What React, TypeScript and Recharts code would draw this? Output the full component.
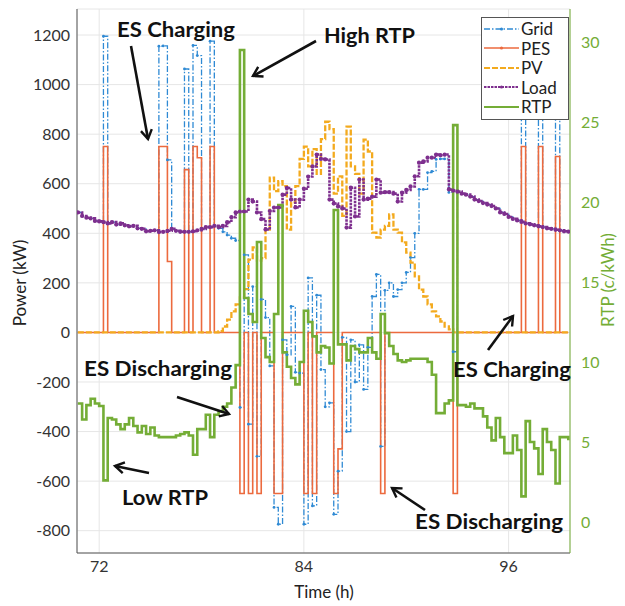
import React from "react";
import { LineChart, Line, XAxis, YAxis, CartesianGrid, Legend } from "recharts";

// Series sampled every 15 min, starting at hour 70.75
const T0 = 70.75;
const DT = 0.25;

const X_TICKS = [72, 84, 96];
const P_TICKS = [-800, -600, -400, -200, 0, 200, 400, 600, 800, 1000, 1200];
const RTP_TICKS = [0, 5, 10, 15, 20, 25, 30];

// Grid power (kW)
const GRID = [
  484, 470, 463, 460, 450, 448, 1195, 440, 445, 435,
  440, 432, 428, 430, 420, 418, 408, 410, 412, 1155,
  1156, 696, 418, 410, 406, 1063, 406, 1158, 1117, 418,
  425, 1175, 430, 420, 406, 393, 380, 371, -303, 313,
  -370, 185, -500, 133, 60, -135, -706, -774, -30, -90,
  105, -161, -164, -774, 220, -700, 150, -150, -300, -284,
  -734, -560, -20, -400, -30, -200, -50, -230, -60, 145,
  234, -460, 170, 200, 145, 173, 200, 242, 302, 400,
  577, 577, 645, 650, 698, 700, 700, 565, -78, 568,
  560, 556, 548, 536, 530, 522, 516, 510, 500, 484,
  478, 466, 458, 452, 1196, 440, 436, 432, 1178, 425,
  420, 418, 1124, 412, 408, 407,
];

// Storage power (kW), + charging / - discharging
const PES = [
  0, 0, 0, 0, 0, 0, 750, 0, 0, 0,
  0, 0, 0, 0, 0, 0, 0, 0, 0, 750,
  750, 286, 0, 0, 0, 657, 0, 750, 705, 0,
  0, 750, 0, 0, 0, 0, 0, 0, -650, 0,
  -650, 0, -650, 0, 0, 0, -650, -650, 0, 0,
  0, 0, 0, -650, 0, -650, 0, 0, 0, 0,
  -650, -470, 0, 0, 0, 0, 0, 0, 0, 0,
  0, -650, 0, 0, 0, 0, 0, 0, 0, 0,
  0, 0, 0, 0, 0, 0, 0, 0, -650, 0,
  0, 0, 0, 0, 0, 0, 0, 0, 0, 0,
  0, 0, 0, 0, 750, 0, 0, 0, 750, 0,
  0, 0, 710, 0, 0, 0,
];

// PV output (kW)
const PV = [
  0, 0, 0, 0, 0, 0, 0, 0, 0, 0,
  0, 0, 0, 0, 0, 0, 0, 0, 0, 0,
  0, 0, 0, 0, 0, 0, 0, 0, 0, 0,
  0, 0, 0, 5, 24, 52, 85, 113, 141, 175,
  294, 343, 290, 300, 415, 625, 570, 610, 590, 415,
  525, 590, 700, 750, 670, 740, 640, 780, 850, 820,
  560, 630, 470, 830, 670, 640, 560, 778, 730, 403,
  383, 415, 430, 476, 415, 403, 363, 322, 282, 226,
  173, 145, 113, 85, 65, 44, 24, 12, 0, 0,
  0, 0, 0, 0, 0, 0, 0, 0, 0, 0,
  0, 0, 0, 0, 0, 0, 0, 0, 0, 0,
  0, 0, 0, 0, 0, 0,
];

// Load (kW)
const LOAD = [
  484, 470, 463, 460, 450, 448, 445, 440, 445, 435,
  440, 432, 428, 430, 420, 418, 408, 410, 412, 405,
  406, 410, 418, 410, 406, 406, 406, 408, 412, 418,
  425, 425, 430, 425, 430, 445, 465, 484, 488, 488,
  536, 528, 484, 457, 415, 490, 504, 504, 556, 583,
  536, 504, 536, 580, 629, 670, 718, 700, 698, 536,
  520, 508, 500, 423, 584, 468, 617, 536, 540, 548,
  617, 564, 566, 566, 560, 528, 564, 575, 589, 630,
  685, 690, 705, 705, 718, 715, 718, 577, 572, 568,
  560, 556, 548, 536, 530, 522, 516, 510, 500, 484,
  478, 466, 458, 452, 446, 440, 436, 432, 428, 425,
  420, 418, 414, 412, 408, 407,
];

// Real-time price (c/kWh)
const RTP = [
  7.4, 6.4, 7.3, 7.7, 7.4, 7.25, 2.6, 6.5, 6.4, 6.1,
  5.8, 6.1, 6.5, 6.0, 5.6, 6.0, 5.5, 5.9, 5.4, 5.3,
  5.3, 5.3, 5.3, 5.4, 5.5, 5.6, 5.4, 4.2, 5.8, 5.8,
  6.7, 5.3, 6.7, 6.9, 7.2, 7.4, 8.4, 9.8, 29.5, 14,
  13, 12.5, 17.5, 11.5, 10.3, 10.0, 13.0, 19.8, 10.6, 9.7,
  9.0, 8.6, 10.0, 13.2, 12.5, 11.6, 10.6, 11.0, 10.9, 9.9,
  19.5, 11.1, 11.1, 10.1, 11.0, 10.8, 10.6, 10.6, 11.5, 10.6,
  10.2, 13.0, 11.8, 11.0, 10.5, 10.1, 10.0, 10.1, 10.2, 10.2,
  10.2, 10.2, 10.0, 9.2, 6.8, 6.8, 7.4, 7.6, 24.8, 7.3,
  7.3, 7.2, 7.4, 7.1, 7.1, 6.6, 5.9, 5.1, 6.5, 5.3,
  4.3, 4.3, 5.4, 4.5, 1.6, 6.3, 5.0, 4.6, 3.0, 5.8,
  5.0, 4.5, 2.4, 5.3, 5.3, 5.1,
];

const FONT = "Lato, 'Open Sans', sans-serif";
const GREEN = "#74ad36";

const SERIES = [
  { key: "grid", name: "Grid", color: "#2f8ad4", dash: "6 2 1.5 2", width: 1.3, axis: "left" },
  { key: "pes", name: "PES", color: "#ec6a3e", dash: undefined, width: 1.6, axis: "left" },
  { key: "pv", name: "PV", color: "#f3aa1e", dash: "6 2", width: 2.3, axis: "left" },
  { key: "load", name: "Load", color: "#7e2f8e", dash: "2.5 1", width: 2.6, axis: "left" },
  { key: "rtp", name: "RTP", color: GREEN, dash: undefined, width: 2.6, axis: "right" },
];

const rows = LOAD.map((_, i) => ({
  t: T0 + DT * i,
  grid: GRID[i],
  pes: PES[i],
  pv: PV[i],
  load: LOAD[i],
  rtp: RTP[i],
}));

function LegendBox() {
  return (
    <div
      style={{
        border: "1px solid #555",
        background: "#fff",
        width: 86,
        padding: "1px 0 2px 0",
        fontFamily: FONT,
        fontSize: 17,
        color: "#222",
        lineHeight: "19.5px",
      }}
    >
      {SERIES.map((s) => (
        <div key={s.key} style={{ display: "flex", alignItems: "center", height: 19.5 }}>
          <svg width={38} height={10} style={{ marginLeft: 1 }}>
            <line
              x1={1}
              x2={36}
              y1={5}
              y2={5}
              stroke={s.color}
              strokeWidth={Math.min(s.width, 2.2)}
              strokeDasharray={s.dash}
            />
            {s.key !== "pv" && s.key !== "rtp" && <circle cx={18.5} cy={5} r={1.6} fill={s.color} />}
          </svg>
          <span>{s.name}</span>
        </div>
      ))}
    </div>
  );
}

function Arrow({ x1, y1, x2, y2 }: { x1: number; y1: number; x2: number; y2: number }) {
  return <line x1={x1} y1={y1} x2={x2} y2={y2} stroke="#111" strokeWidth={2.6} markerEnd="url(#head)" />;
}

function Note({ x, y, w, text }: { x: number; y: number; w: number; text: string }) {
  return (
    <text
      x={x}
      y={y}
      dominantBaseline="central"
      fontFamily={FONT}
      fontWeight={700}
      fontSize={20}
      fill="#111"
      textLength={w}
      lengthAdjust="spacingAndGlyphs"
    >
      {text}
    </text>
  );
}

function Overlay() {
  return (
    <svg
      width={625}
      height={606}
      style={{ position: "absolute", left: 0, top: 0, pointerEvents: "none" }}
    >
      <defs>
        <marker id="head" markerWidth={14} markerHeight={14} refX={11} refY={7} orient="auto" markerUnits="userSpaceOnUse">
          <path d="M2,1.5 L11,7 L2,12.5" fill="none" stroke="#111" strokeWidth={2.4} />
        </marker>
      </defs>
      <text
        transform="translate(19,283) rotate(-90)"
        textAnchor="middle"
        dominantBaseline="central"
        fontFamily={FONT}
        fontSize={17}
        fill="#222"
      >
        Power (kW)
      </text>
      <text
        transform="translate(607,280) rotate(-90)"
        textAnchor="middle"
        dominantBaseline="central"
        fontFamily={FONT}
        fontSize={17}
        fill={GREEN}
      >
        RTP (c/kWh)
      </text>
      <text x={324} y={591} textAnchor="middle" dominantBaseline="central" fontFamily={FONT} fontSize={17} fill="#222">
        Time (h)
      </text>

      <Note x={117} y={29} w={118} text="ES Charging" />
      <Arrow x1={131} y1={46} x2={148} y2={139} />
      <Note x={324} y={35} w={91} text="High RTP" />
      <Arrow x1={316} y1={41} x2={253} y2={76} />
      <Note x={84} y={368} w={148} text="ES Discharging" />
      <Arrow x1={177} y1={397} x2={229} y2={414} />
      <Note x={122} y={497} w={86} text="Low RTP" />
      <Arrow x1={149} y1={473} x2={115} y2={466} />
      <Note x={453} y={369} w={118} text="ES Charging" />
      <Arrow x1={488} y1={350} x2={513} y2={316} />
      <Note x={415} y={521} w={148} text="ES Discharging" />
      <Arrow x1={425} y1={510} x2={392} y2={488} />
    </svg>
  );
}

export default function App() {
  const tick = { fontSize: 16, fill: "#333", fontFamily: FONT };
  return (
    <div style={{ position: "absolute", left: 0, top: 0, width: 625, height: 606, background: "#fff" }}>
      <LineChart width={625} height={606} data={rows} margin={{ top: 9, right: 0, bottom: 23, left: 0 }}>
        <CartesianGrid yAxisId="left" stroke="#e6e6e6" />
        <XAxis
          dataKey="t"
          type="number"
          domain={[70.7, 99.6]}
          ticks={X_TICKS}
          allowDataOverflow
          height={30}
          tickLine={false}
          tick={tick}
          axisLine={{ stroke: "#555" }}
        />
        <XAxis
          xAxisId="top"
          orientation="top"
          dataKey="t"
          type="number"
          domain={[70.7, 99.6]}
          height={0}
          tick={false}
          tickLine={false}
          axisLine={{ stroke: "#555" }}
        />
        <YAxis
          yAxisId="left"
          width={77}
          domain={[-890, 1305]}
          ticks={P_TICKS}
          allowDataOverflow
          tickLine={false}
          tickMargin={1}
          tick={tick}
          axisLine={{ stroke: "#555" }}
        />
        <YAxis
          yAxisId="right"
          orientation="right"
          width={55}
          domain={[-1.94, 32.06]}
          ticks={RTP_TICKS}
          allowDataOverflow
          tickLine={false}
          tickMargin={5}
          tick={{ ...tick, fill: GREEN }}
          axisLine={{ stroke: GREEN }}
        />
        <Legend
          layout="horizontal"
          verticalAlign="middle"
          align="center"
          content={() => <LegendBox />}
          wrapperStyle={{ position: "absolute", left: 481, top: 17, width: 88, height: 102 }}
        />
        {SERIES.map((s) => (
          <Line
            key={s.key}
            yAxisId={s.axis}
            dataKey={s.key}
            name={s.name}
            type="stepAfter"
            stroke={s.color}
            strokeWidth={s.width}
            strokeDasharray={s.dash}
            dot={
              s.key === "grid"
                ? { r: 1.4, fill: s.color, stroke: s.color, strokeWidth: 0 }
                : s.key === "load"
                ? { r: 2.1, fill: s.color, stroke: s.color, strokeWidth: 0 }
                : false
            }
            activeDot={false}
            isAnimationActive={false}
          />
        ))}
      </LineChart>
      <Overlay />
    </div>
  );
}
